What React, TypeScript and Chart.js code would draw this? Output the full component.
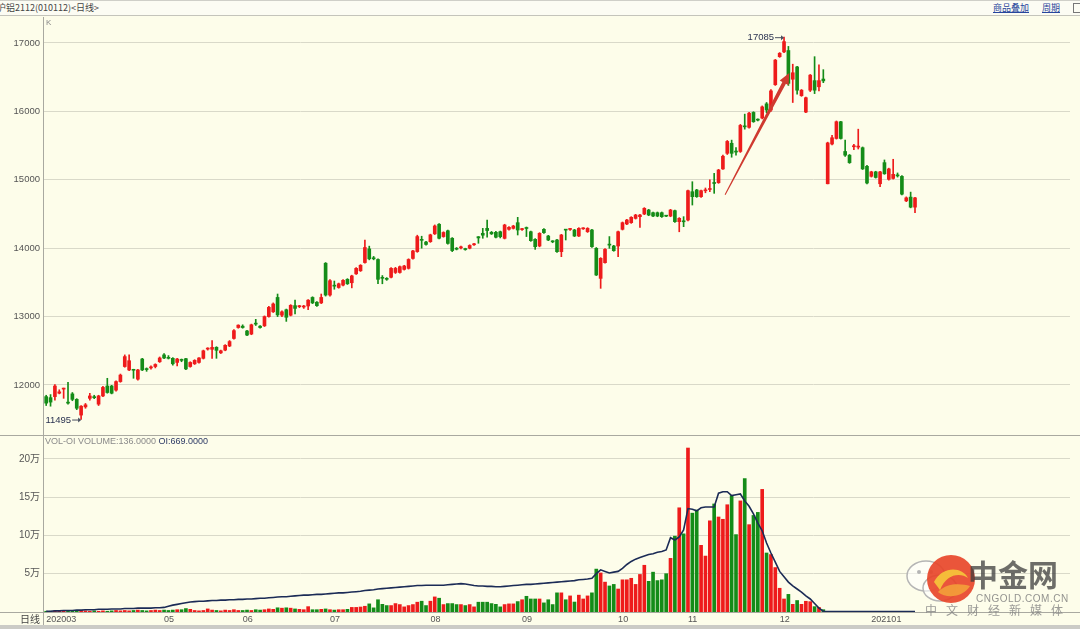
import React, { useEffect, useRef } from 'react';
import { Chart, registerables } from 'chart.js';

Chart.register(...registerables);

// ---------- data ----------
const openPrices = [
  11830, 11815, 11830, 11880, 11940, 11745, 11870, 11790, 11560, 11680,
  11805, 11825, 11720, 11840, 11985, 11985, 11925, 12050, 12270, 12220,
  12225, 12085, 12380, 12240, 12250, 12270, 12340, 12440, 12405, 12390,
  12330, 12370, 12385, 12270, 12310, 12330, 12390, 12525, 12522, 12551,
  12470, 12510, 12570, 12680, 12840, 12860, 12790, 12745, 12900, 12860,
  12865, 13000, 13070, 13280, 13020, 13100, 13020, 13160, 13145, 13140,
  13155, 13280, 13210, 13200, 13780, 13315, 13455, 13425, 13460, 13545,
  13495, 13625, 13670, 13790, 13990, 13855, 13835, 13570, 13555, 13575,
  13645, 13645, 13690, 13705, 13850, 13950, 14125, 14090, 14095, 14210,
  14350, 14170, 14255, 14145, 13995, 14005, 13990, 14000, 14050, 14168,
  14218, 14290, 14232, 14232, 14241, 14144, 14276, 14290, 14373, 14272,
  14292, 14241, 14130, 14032, 14276, 14178, 14097, 14120, 13949, 14268,
  14274, 14266, 14178, 14283, 14241, 14266, 13998, 13559, 13788, 14049,
  14032, 14032, 14276, 14354, 14373, 14436, 14461, 14500, 14558, 14519,
  14519, 14519, 14472, 14470, 14549, 14388, 14390, 14412, 14826, 14851,
  14753, 14839, 14858, 14950, 14958, 15159, 15387, 15534, 15420, 15414,
  15782, 15767, 15985, 15880, 15903, 16110, 16020, 16390, 16800, 16870,
  16890, 16470, 16650, 16230, 15990, 16310, 16450, 16360, 16473, 14942,
  15523, 15604, 15849, 15414, 15360, 15483, 15478, 15469, 15197, 15051,
  15116, 14942, 15251, 15007, 15020, 15065, 15050, 14692, 14747, 14600,
];
const highPrices = [
  11850, 11860, 12005, 11930, 11955, 12040, 11890, 11800, 11700, 11730,
  11880, 11850, 11850, 11980, 12098, 11995, 12060, 12160, 12440, 12440,
  12230, 12230, 12390, 12250, 12280, 12310, 12410, 12460, 12430, 12400,
  12390, 12380, 12390, 12340, 12370, 12400, 12510, 12545, 12650, 12560,
  12510, 12590, 12650, 12810, 12880, 12880, 12800, 12890, 12960, 12870,
  13010, 13150, 13200, 13330, 13085, 13110, 13175, 13240, 13165, 13165,
  13250, 13290, 13220, 13330, 13790, 13540, 13520, 13490, 13540, 13555,
  13605, 13715, 13760, 14120, 14030, 13880, 13845, 13600, 13570, 13715,
  13720, 13740, 13750, 13845, 13970, 14190, 14175, 14100, 14205, 14340,
  14360, 14240, 14265, 14155, 14010, 14030, 14000, 14050, 14070, 14170,
  14290, 14410, 14245, 14245, 14250, 14350, 14315, 14335, 14451, 14290,
  14310, 14250, 14140, 14227, 14286, 14188, 14110, 14130, 14203, 14270,
  14290, 14276, 14300, 14300, 14300, 14276, 14010, 13862, 13993, 14170,
  14042, 14251, 14383, 14422, 14461, 14495, 14495, 14593, 14568, 14529,
  14529, 14529, 14480, 14568, 14559, 14447, 14461, 14851, 14972, 14861,
  14851, 14880, 15000, 15094, 15153, 15360, 15575, 15580, 15470, 15810,
  15960, 15985, 15995, 15890, 16080, 16130, 16320, 16760, 16860, 17085,
  16950, 16690, 16660, 16320, 16210, 16540, 16800, 16680, 16610, 15550,
  15650, 15860, 15855, 15580, 15370, 15520, 15740, 15480, 15210, 15125,
  15125, 15125, 15290, 15170, 15300, 15100, 15060, 14750, 14820, 14745,
];
const lowPrices = [
  11700, 11690, 11780, 11870, 11805, 11720, 11770, 11640, 11495, 11660,
  11780, 11800, 11700, 11830, 11880, 11870, 11910, 12040, 12260, 12210,
  12098, 12070, 12210, 12200, 12230, 12250, 12330, 12385, 12380, 12290,
  12280, 12340, 12225, 12260, 12300, 12320, 12380, 12510, 12390, 12390,
  12460, 12500, 12560, 12670, 12830, 12830, 12720, 12735, 12870, 12830,
  12855, 12990, 13060, 13000, 13000, 12930, 13010, 13040, 13130, 13120,
  13100, 13190, 13150, 13190, 13300, 13300, 13400, 13415, 13450, 13470,
  13420, 13615, 13660, 13780, 13830, 13830, 13480, 13480, 13530, 13565,
  13630, 13635, 13680, 13695, 13840, 13940, 14000, 14045, 14085, 14200,
  14135, 14160, 14060, 13950, 13975, 13990, 13970, 13990, 14040, 14072,
  14145, 14160, 14200, 14150, 14150, 14135, 14265, 14280, 14193, 14260,
  14170, 14100, 13983, 14020, 14215, 14110, 14080, 13940, 13876, 14120,
  14260, 14170, 14170, 14275, 14230, 14010, 13600, 13413, 13780, 13998,
  13955, 13876, 14266, 14344, 14363, 14426, 14305, 14490, 14475, 14460,
  14460, 14450, 14460, 14460, 14378, 14240, 14315, 14400, 14631, 14743,
  14743, 14810, 14826, 14802, 14948, 15150, 15370, 15330, 15360, 15400,
  15740, 15755, 15840, 15860, 15890, 15980, 16000, 16380, 16790, 16860,
  16380, 16130, 16250, 16220, 15980, 16290, 16260, 16300, 16420, 14940,
  15510, 15595, 15595, 15340, 15240, 15440, 15450, 15150, 14940, 15040,
  15025, 14900, 15080, 14995, 15010, 15040, 14780, 14680, 14590, 14520,
];
const closePrices = [
  11735, 11750, 11985, 11900, 11950, 11735, 11790, 11660, 11690, 11710,
  11840, 11815, 11840, 11965, 11890, 11880, 12050, 12145, 12415, 12355,
  12215, 12220, 12220, 12225, 12265, 12300, 12395, 12395, 12390, 12310,
  12380, 12360, 12235, 12330, 12360, 12395, 12500, 12535, 12550, 12507,
  12500, 12580, 12635, 12795, 12875, 12840, 12730, 12880, 12890, 12840,
  13000, 13135, 13185, 13025, 13070, 12990, 13165, 13120, 13155, 13155,
  13240, 13200, 13160, 13280, 13315, 13525, 13445, 13480, 13530, 13480,
  13595, 13705, 13750, 14010, 13845, 13845, 13545, 13560, 13545, 13705,
  13705, 13730, 13740, 13835, 13960, 14170, 14115, 14055, 14195, 14325,
  14145, 14230, 14070, 13965, 13985, 14015, 13980, 14040, 14060, 14150,
  14190, 14258, 14210, 14160, 14168, 14339, 14305, 14324, 14266, 14280,
  14288, 14110, 14022, 14217, 14227, 14120, 14093, 13949, 14193, 14264,
  14278, 14178, 14290, 14287, 14290, 14022, 13608, 13852, 13983, 14045,
  13964, 14241, 14373, 14412, 14451, 14485, 14485, 14583, 14485, 14470,
  14470, 14461, 14468, 14558, 14388, 14437, 14386, 14841, 14753, 14753,
  14841, 14843, 14862, 14946, 15143, 15344, 15561, 15387, 15405, 15795,
  15774, 15974, 15849, 15872, 16066, 16020, 16300, 16750, 16850, 17020,
  16410, 16565, 16310, 16310, 16200, 16530, 16310, 16450, 16446, 15539,
  15615, 15849, 15604, 15360, 15251, 15487, 15482, 15159, 14953, 15116,
  15034, 15116, 15088, 15159, 15080, 15057, 14790, 14736, 14600, 14736,
];
// volume in 万 (10k lots); no bars after index 178
const volumeWan = [
  0.1, 0.1, 0.15, 0.1, 0.1, 0.15, 0.1, 0.15, 0.2, 0.15,
  0.1, 0.15, 0.1, 0.15, 0.1, 0.15, 0.2, 0.15, 0.2, 0.15,
  0.2, 0.25, 0.2, 0.15, 0.2, 0.25, 0.2, 0.25, 0.2, 0.25,
  0.3, 0.3, 0.45, 0.35, 0.2, 0.15, 0.2, 0.4, 0.25, 0.2,
  0.15, 0.25, 0.2, 0.3, 0.2, 0.2, 0.25, 0.2, 0.3, 0.25,
  0.3, 0.4, 0.35, 0.55, 0.5, 0.55, 0.5, 0.4, 0.35, 0.3,
  0.7, 0.3, 0.3, 0.35, 0.4, 0.3, 0.25, 0.3, 0.3, 0.35,
  0.6, 0.6, 0.65, 0.75, 1.06, 0.54, 1.6, 1.0, 0.84, 0.84,
  1.1, 0.97, 0.67, 0.84, 0.97, 1.28, 1.41, 0.84, 1.41, 1.97,
  1.8, 0.97, 1.1, 1.1, 0.97, 0.97, 0.84, 0.97, 0.67, 1.28,
  1.28, 1.28, 1.1, 1.0, 0.67, 0.97, 1.06, 1.06, 1.36, 1.6,
  2.05, 1.7, 1.7, 1.7, 1.19, 1.6, 0.97, 2.5, 2.5, 1.6,
  2.1, 1.3, 2.2, 1.7, 2.1, 2.5, 5.6, 5.1, 3.9, 3.4,
  3.6, 3.0, 4.2, 4.2, 4.4, 3.6, 4.9, 6.1, 4.0, 5.2,
  4.1, 4.2, 5.0, 7.0, 9.9, 13.6, 10.2, 21.4, 12.9, 13.3,
  8.7, 7.3, 11.9, 14.1, 12.4, 12.1, 14.0, 15.2, 10.1, 14.5,
  17.4, 11.4, 12.6, 13.0, 16.0, 7.7, 7.5, 5.8, 3.1, 1.7,
  2.3, 1.0, 1.5, 1.0, 1.4, 1.35, 0.7, 0.6, 0.3,
];
// open interest in 万
const openInterestWan = [
  0.1, 0.1, 0.15, 0.15, 0.2, 0.2, 0.2, 0.25, 0.25, 0.3,
  0.3, 0.3, 0.35, 0.35, 0.35, 0.4, 0.4, 0.4, 0.45, 0.45,
  0.45, 0.5, 0.5, 0.5, 0.5, 0.55, 0.55, 0.6, 0.75, 0.9,
  1.0, 1.1, 1.2, 1.3, 1.35, 1.4, 1.4, 1.45, 1.5, 1.5,
  1.55, 1.55, 1.6, 1.6, 1.65, 1.65, 1.7, 1.7, 1.75, 1.8,
  1.8, 1.85, 1.9, 1.95, 2.0, 2.0, 2.05, 2.1, 2.15, 2.2,
  2.2, 2.25, 2.3, 2.3, 2.35, 2.4, 2.45, 2.5, 2.5, 2.55,
  2.6, 2.65, 2.7, 2.8, 2.85, 2.9, 3.0, 3.05, 3.1, 3.15,
  3.2, 3.25, 3.3, 3.35, 3.4, 3.45, 3.45, 3.5, 3.5, 3.5,
  3.5, 3.5, 3.55, 3.6, 3.65, 3.7, 3.65, 3.55, 3.45, 3.4,
  3.4, 3.35, 3.35, 3.3, 3.3, 3.35, 3.4, 3.45, 3.5, 3.55,
  3.6, 3.6, 3.65, 3.7, 3.75, 3.8, 3.85, 3.9, 3.95, 4.0,
  4.05, 4.1, 4.2, 4.25, 4.3, 4.4, 5.0, 5.5, 5.3, 5.1,
  5.2, 5.3, 5.7, 6.2, 6.6, 6.9, 7.1, 7.3, 7.5, 7.6,
  7.8, 7.9, 8.1, 9.7, 9.4, 9.8, 10.7, 13.5, 13.4, 13.2,
  13.6, 13.7, 13.7, 13.7, 15.5, 15.7, 15.7, 15.2, 15.3, 15.4,
  14.5, 13.8, 12.8, 11.6, 10.6, 9.0, 7.7, 6.5, 5.3, 4.6,
  3.9, 3.4, 3.0, 2.6, 2.1, 1.7, 1.1, 0.5, 0.1, 0.05,
  0.05, 0.05, 0.05, 0.05, 0.05, 0.05, 0.05, 0.05, 0.05, 0.05,
  0.05, 0.05, 0.05, 0.05, 0.05, 0.05, 0.05, 0.05, 0.05, 0.05,
];
const monthTickIndex = [0, 27, 45, 65, 88, 109, 131, 147, 168, 189];
const monthTickText = ['202003', '05', '06', '07', '08', '09', '10', '11', '12', '202101'];
const priceTicks = [12000, 13000, 14000, 15000, 16000, 17000];
const volumeTicks = [5, 10, 15, 20];
const trendArrowIndex = [155.5, 170.2];
const trendArrowPrice = [14780, 16560];
const slotCount = 235;

const RED = '#ee1b1b';
const GREEN = '#148c18';
const BG = '#fdfdea';
const GRID = '#d9d9c9';
const AXIS_FONT = '"Liberation Sans", "Noto Sans CJK SC", sans-serif';

const noPad = (s: any) => {
  s.paddingTop = 0;
  s.paddingBottom = 0;
  s.paddingLeft = 0;
  s.paddingRight = 0;
};

const overlayPlugin = {
  id: 'overlay',
  afterDraw(chart: any) {
    const { ctx, chartArea, scales } = chart;
    const xs = scales.x;
    const yP = scales.yPrice;
    const W = chart.width;
    const H = chart.height;
    ctx.save();
    ctx.strokeStyle = '#a9a9a0';
    ctx.lineWidth = 1;
    ctx.beginPath();
    ctx.moveTo(0, Math.round(yP.bottom) + 0.5);
    ctx.lineTo(W, Math.round(yP.bottom) + 0.5);
    ctx.moveTo(0, Math.round(chartArea.bottom) + 0.5);
    ctx.lineTo(W, Math.round(chartArea.bottom) + 0.5);
    ctx.moveTo(Math.round(chartArea.left) - 0.5, 0);
    ctx.lineTo(Math.round(chartArea.left) - 0.5, H);
    ctx.stroke();

    ctx.textBaseline = 'middle';
    ctx.textAlign = 'left';
    ctx.fillStyle = '#888';
    ctx.font = '8px ' + AXIS_FONT;
    ctx.fillText('K', chartArea.left + 2, 6);

    ctx.font = '9px ' + AXIS_FONT;
    ctx.fillStyle = '#8a8a8a';
    const t1 = 'VOL-OI VOLUME:136.0000 ';
    const vy = yP.bottom + 7;
    ctx.fillText(t1, chartArea.left + 1, vy);
    const w1 = ctx.measureText(t1).width;
    ctx.fillStyle = '#2d3a66';
    ctx.fillText('OI:669.0000', chartArea.left + 1 + w1, vy);

    ctx.font = '10px "Noto Sans CJK SC", sans-serif';
    ctx.fillStyle = '#444';
    ctx.textAlign = 'right';
    ctx.fillText('日线', chartArea.left - 4, chartArea.bottom + 7);

    // min / max markers
    const maxHigh = Math.max(...highPrices);
    const minLow = Math.min(...lowPrices);
    const marks = [
      { v: maxHigh, i: highPrices.indexOf(maxHigh) },
      { v: minLow, i: lowPrices.indexOf(minLow) },
    ];
    ctx.font = '9.5px ' + AXIS_FONT;
    for (const m of marks) {
      const px = xs.getPixelForValue(m.i) + 1;
      const py = yP.getPixelForValue(m.v);
      ctx.strokeStyle = '#4a5060';
      ctx.fillStyle = '#4a5060';
      ctx.lineWidth = 1;
      ctx.beginPath();
      ctx.moveTo(px - 10, py + 0.5);
      ctx.lineTo(px - 2, py + 0.5);
      ctx.stroke();
      ctx.beginPath();
      ctx.moveTo(px - 1, py + 0.5);
      ctx.lineTo(px - 4, py - 2);
      ctx.lineTo(px - 4, py + 3);
      ctx.closePath();
      ctx.fill();
      ctx.fillStyle = '#2a3250';
      ctx.textAlign = 'right';
      ctx.fillText(String(m.v), px - 11, py + 0.5);
    }

    // hand drawn red trend arrow
    const ax0 = xs.getPixelForValue(trendArrowIndex[0]);
    const ay0 = yP.getPixelForValue(trendArrowPrice[0]);
    const ax1 = xs.getPixelForValue(trendArrowIndex[1]);
    const ay1 = yP.getPixelForValue(trendArrowPrice[1]);
    const dx = ax1 - ax0, dy = ay1 - ay0;
    const len = Math.hypot(dx, dy);
    const ux = dx / len, uy = dy / len;
    const nx = -uy, ny = ux;
    const headLen = 11, headW = 5;
    const bx = ax1 - ux * headLen, by = ay1 - uy * headLen;
    ctx.fillStyle = '#cf3a30';
    ctx.beginPath();
    ctx.moveTo(ax0 + nx * 0.5, ay0 + ny * 0.5);
    ctx.lineTo(bx + nx * 2, by + ny * 2);
    ctx.lineTo(bx + nx * headW, by + ny * headW);
    ctx.lineTo(ax1, ay1);
    ctx.lineTo(bx - nx * headW, by - ny * headW);
    ctx.lineTo(bx - nx * 2, by - ny * 2);
    ctx.lineTo(ax0 - nx * 0.5, ay0 - ny * 0.5);
    ctx.closePath();
    ctx.fill();
    ctx.restore();
  },
};

export default function App() {
  const canvasRef = useRef<HTMLCanvasElement | null>(null);

  useEffect(() => {
    document.body.style.margin = '0';
    const canvas = canvasRef.current;
    if (!canvas) return;
    const n = openPrices.length;
    const labels = Array.from({ length: slotCount }, (_, i) => {
      const k = monthTickIndex.indexOf(i);
      return k >= 0 ? monthTickText[k] : '';
    });
    const colors = openPrices.map((o, i) => (closePrices[i] >= o ? RED : GREEN));
    const wicks = openPrices.map((_, i) => [lowPrices[i], highPrices[i]]);
    const bodies = openPrices.map((o, i) => [o, closePrices[i]]);
    const vols = Array.from({ length: n }, (_, i) => (i < volumeWan.length ? volumeWan[i] : null));

    const chart = new Chart(canvas, {
      type: 'bar',
      data: {
        labels,
        datasets: [
          {
            type: 'line',
            data: openInterestWan,
            yAxisID: 'yVol',
            borderColor: '#1b2b56',
            borderWidth: 1.6,
            pointRadius: 0,
            tension: 0,
            order: 0,
          } as any,
          {
            data: vols,
            yAxisID: 'yVol',
            backgroundColor: colors,
            barThickness: 3,
            grouped: false,
            order: 3,
          } as any,
          {
            data: wicks,
            yAxisID: 'yPrice',
            backgroundColor: colors,
            barThickness: 1,
            grouped: false,
            order: 2,
          } as any,
          {
            data: bodies,
            yAxisID: 'yPrice',
            backgroundColor: colors,
            barThickness: 3,
            minBarLength: 1,
            grouped: false,
            order: 1,
          } as any,
        ],
      },
      options: {
        responsive: false,
        animation: false,
        devicePixelRatio: 1,
        events: [],
        layout: { padding: { left: 0, right: 10, top: 0, bottom: 0 } },
        plugins: { legend: { display: false }, tooltip: { enabled: false } },
        scales: {
          x: {
            type: 'category',
            offset: true,
            grid: { display: false, drawTicks: false },
            border: { display: false },
            ticks: {
              autoSkip: false,
              maxRotation: 0,
              minRotation: 0,
              align: 'start',
              padding: 2,
              color: '#555',
              font: { family: AXIS_FONT, size: 9 },
            },
            afterFit: (s: any) => { s.height = 13; noPad(s); },
          },
          yVol: {
            type: 'linear',
            position: 'left',
            stack: 'panes',
            stackWeight: 177,
            min: 0,
            max: 23.1,
            afterBuildTicks: (s: any) => { s.ticks = volumeTicks.map((v) => ({ value: v })); },
            ticks: {
              padding: 4,
              color: '#555',
              font: { family: AXIS_FONT, size: 10 },
              callback: (v: any) => String(v) + '万',
            },
            grid: { color: GRID, drawTicks: false },
            border: { display: false },
            afterFit: (s: any) => { s.width = 44; noPad(s); },
          },
          yPrice: {
            type: 'linear',
            position: 'left',
            stack: 'panes',
            stackWeight: 418,
            min: 11269,
            max: 17380,
            afterBuildTicks: (s: any) => { s.ticks = priceTicks.map((v) => ({ value: v })); },
            ticks: {
              padding: 4,
              color: '#555',
              font: { family: AXIS_FONT, size: 9.5 },
              callback: (v: any) => String(v),
            },
            grid: { color: GRID, drawTicks: false },
            border: { display: false },
            afterFit: (s: any) => { s.width = 44; noPad(s); },
          },
        } as any,
      },
      plugins: [overlayPlugin],
    });
    return () => chart.destroy();
  }, []);

  const cjk = '"Noto Sans CJK SC", sans-serif';
  return (
    <div style={{ position: 'fixed', left: 0, top: 0, width: 1080, height: 629, background: BG, overflow: 'hidden' }}>
      <div style={{ position: 'absolute', left: 0, top: 0, width: 1080, height: 16, background: '#fcfcf3', borderTop: '1px solid #cfcfc8', borderBottom: '1px solid #c4c4bb', boxSizing: 'border-box' }}>
        <span style={{ position: 'absolute', left: -3, top: 0, fontFamily: cjk, fontSize: 9, lineHeight: '14px', color: '#444' }}>沪铝2112(010112)&lt;日线&gt;</span>
        <span style={{ position: 'absolute', left: 993, top: 0, fontFamily: cjk, fontSize: 9, lineHeight: '14px', color: '#27459c', textDecoration: 'underline' }}>商品叠加</span>
        <span style={{ position: 'absolute', left: 1042, top: 0, fontFamily: cjk, fontSize: 9, lineHeight: '14px', color: '#27459c', textDecoration: 'underline' }}>周期</span>
        <div style={{ position: 'absolute', left: 1073, top: 2, width: 10, height: 10, border: '1px solid #777', boxSizing: 'border-box' }} />
      </div>
      <canvas ref={canvasRef} width={1080} height={608} style={{ position: 'absolute', left: 0, top: 17, width: 1080, height: 608 }} />
      <div style={{ position: 'absolute', left: 0, top: 625, width: 1080, height: 4, background: '#cbcbc6' }} />
      {/* watermark */}
      <div style={{ position: 'absolute', left: 900, top: 548, width: 180, height: 75, pointerEvents: 'none' }}>
        <svg width={70} height={60} style={{ position: 'absolute', left: 2, top: 6 }}>
          <ellipse cx={24} cy={22} rx={19} ry={15} fill="rgba(255,255,255,0.55)" stroke="#b5b5b5" strokeWidth={1.5} />
          <ellipse cx={38} cy={34} rx={17} ry={13} fill="rgba(255,255,255,0.6)" stroke="#b5b5b5" strokeWidth={1.5} />
          <circle cx={17} cy={18} r={2} fill="#b5b5b5" />
          <circle cx={29} cy={18} r={2} fill="#b5b5b5" />
        </svg>
        <svg width={56} height={56} style={{ position: 'absolute', left: 24, top: 4 }}>
          <circle cx={27} cy={27} r={24} fill="#e8472a" opacity={0.92} />
          <path d="M10 30 C 18 14, 38 14, 44 26 C 36 20, 22 22, 16 38 Z" fill="#f6c23a" opacity={0.95} />
          <path d="M14 40 C 24 30, 38 32, 46 34 C 40 44, 24 48, 14 40 Z" fill="#f4a13a" opacity={0.9} />
        </svg>
        <span style={{ position: 'absolute', left: 68, top: 8, fontFamily: cjk, fontSize: 30, fontWeight: 700, lineHeight: '34px', color: 'rgba(60,60,60,0.75)' }}>中金网</span>
        <span style={{ position: 'absolute', left: 76, top: 45, fontFamily: '"Liberation Sans", sans-serif', fontSize: 10, lineHeight: '12px', color: 'rgba(120,120,120,0.8)', letterSpacing: 0.5 }}>CNGOLD.COM.CN</span>
        <span style={{ position: 'absolute', left: 25, top: 55, fontFamily: cjk, fontSize: 12, lineHeight: '14px', color: 'rgba(130,130,130,0.8)', letterSpacing: 9 }}>中文财经新媒体</span>
      </div>
    </div>
  );
}
